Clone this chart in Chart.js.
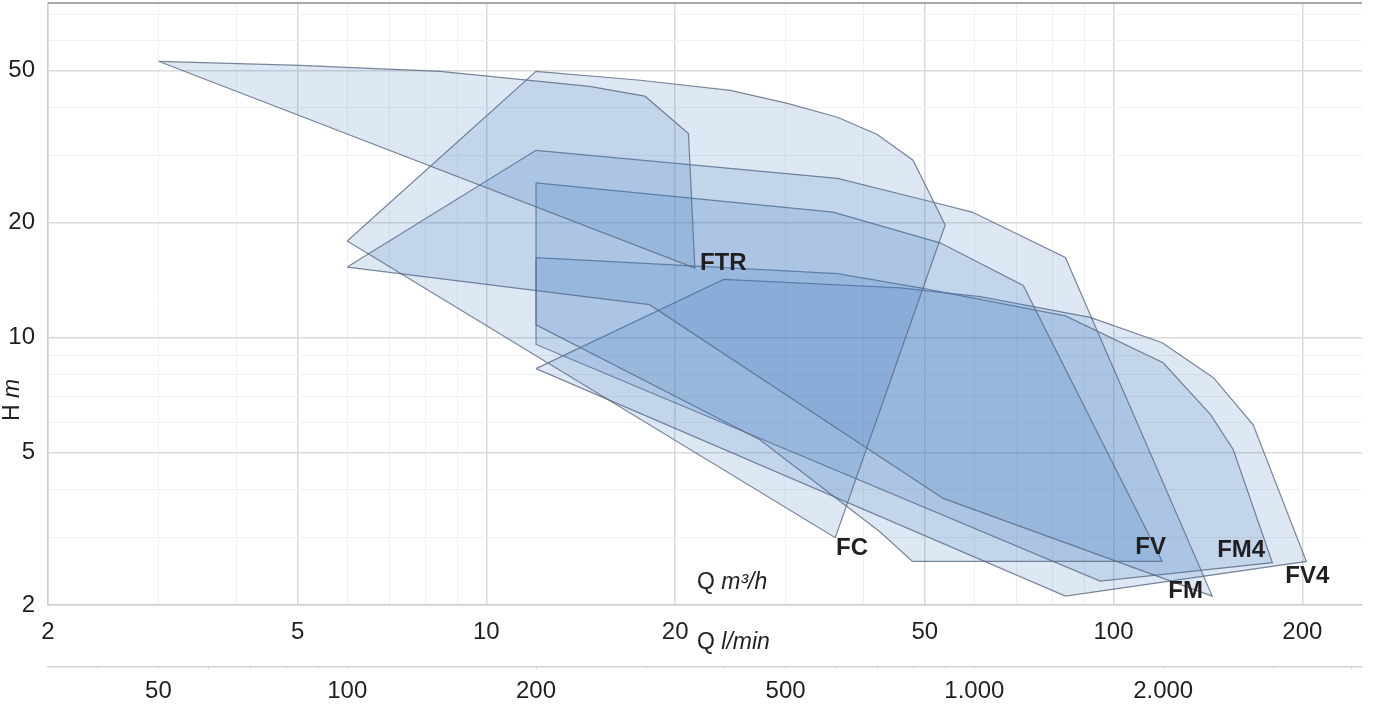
<!DOCTYPE html>
<html>
<head>
<meta charset="utf-8">
<script src="https://cdn.jsdelivr.net/npm/chart.js@4.4.1/dist/chart.umd.min.js"></script>
<style>
  html, body { margin: 0; padding: 0; background: #fff; }
  #wrap { width: 1377px; height: 706px; }
</style>
</head>
<body>
<div id="wrap"><canvas id="chart"></canvas></div>
<script>
// Pump ranges, Q in m3/h and H in m, vertices
const ftrQ = [3.0, 5.05, 8.44, 14.6, 17.9, 21.0, 21.5];
const ftrH = [52.8, 51.5, 49.7, 45.4, 42.8, 34.2, 15.2];

const fcQ = [6.0, 12, 17.6, 24.5, 30.2, 36.3, 42.0, 47.9, 53.9, 36.0];
const fcH = [17.9, 49.7, 47.1, 44.3, 41.0, 37.7, 34.0, 29.1, 19.7, 3.0];

const fmQ = [6.0, 12, 36.3, 51.6, 59.5, 83.8, 143.7, 53.5, 18.2];
const fmH = [15.3, 30.9, 26.1, 22.6, 21.3, 16.2, 2.11, 3.8, 12.2];

const fvQ = [12, 35.7, 52.9, 71.8, 119.6, 47.8, 42.5, 27.3, 12];
const fvH = [25.4, 21.3, 17.7, 13.7, 2.6, 2.6, 3.1, 5.41, 10.8];

const fm4Q = [12, 36.3, 49.2, 83.8, 120, 142.7, 155.2, 179.2, 95.2, 12];
const fm4H = [16.2, 14.7, 13.5, 11.4, 8.6, 6.3, 5.1, 2.58, 2.31, 9.6];

const fv4Q = [12, 23.9, 45.7, 61.3, 91.8, 119.6, 144.3, 167, 203, 83.8];
const fv4H = [8.3, 14.2, 13.5, 12.8, 11.3, 9.7, 7.86, 5.92, 2.6, 2.11];

// series names and where they sit (Q, H)
const seriesNames = ['FTR', 'FC', 'FV', 'FM4', 'FM', 'FV4'];
const nameQ = [21.9, 36.1, 108.3, 146.3, 122.3, 187.9];
const nameH = [15.6, 2.81, 2.83, 2.78, 2.17, 2.38];

// axes
const qTicks = [2, 3, 4, 5, 6, 7, 8, 9, 10, 20, 30, 40, 50, 60, 70, 80, 90, 100, 200];
const qLabels = [2, 5, 10, 20, 50, 100, 200];
const hTicks = [2, 3, 4, 5, 6, 7, 8, 9, 10, 20, 30, 40, 50, 60, 70];
const hLabels = [2, 5, 10, 20, 50];
const lminTicks = [40, 50, 60, 70, 80, 90, 100, 200, 300, 400, 500, 600, 700, 800, 900, 1000, 2000, 3000, 4000];
const lminLabels = [50, 100, 200, 500, 1000, 2000];

const Q_MIN = 2, Q_MAX = 249, H_MIN = 2, H_MAX = 75;
const LMIN_PER_M3H = 1000 / 60;

const FONT = '"Liberation Sans", Arial, Helvetica, sans-serif';
const TEXT = '#231f20';

function shape(q, h) {
  const pts = q.map((v, i) => ({ x: v, y: h[i] }));
  pts.push(pts[0]);
  return pts;
}

function area(label, q, h) {
  return {
    label,
    data: shape(q, h),
    fill: 'shape',
    backgroundColor: 'rgba(60, 118, 190, 0.17)',
    borderColor: 'rgba(90, 105, 130, 0.8)',
    borderWidth: 1.2,
    pointRadius: 0,
    tension: 0
  };
}

function fixTicks(values) {
  return scale => { scale.ticks = values.map(v => ({ value: v })); };
}

// keep the plot area where the picture has it, no label overhang padding
function fixSize(w, h) {
  return scale => {
    if (w) scale.width = w;
    if (h) scale.height = h;
    scale.paddingTop = 0;
    scale.paddingBottom = 0;
    scale.paddingLeft = 0;
    scale.paddingRight = 0;
  };
}

function gridColor(labels) {
  return c => (c.tick && labels.includes(c.tick.value)) ? '#dadada' : '#f0f0f0';
}

function gridWidth(labels) {
  return c => (c.tick && labels.includes(c.tick.value)) ? 1.5 : 1;
}

function dotted(v) {
  return String(v).replace(/\B(?=(\d{3})+(?!\d))/g, '.');
}

function drawMixed(ctx, parts, x, y, size) {
  parts.forEach(([txt, italic]) => {
    ctx.font = (italic ? 'italic ' : '') + size + 'px ' + FONT;
    ctx.fillText(txt, x, y);
    x += ctx.measureText(txt).width;
  });
}

const overlay = {
  id: 'overlay',
  afterDatasetsDraw(chart) {
    const { ctx, chartArea, scales } = chart;
    ctx.save();

    // frame line on top
    ctx.strokeStyle = '#8c8c8c';
    ctx.lineWidth = 1.5;
    ctx.beginPath();
    ctx.moveTo(chartArea.left, chartArea.top);
    ctx.lineTo(chartArea.right, chartArea.top);
    ctx.stroke();

    // series names
    ctx.fillStyle = TEXT;
    ctx.textBaseline = 'middle';
    ctx.textAlign = 'left';
    ctx.font = 'bold 24px ' + FONT;
    seriesNames.forEach((name, i) => {
      ctx.fillText(name, scales.x.getPixelForValue(nameQ[i]), scales.y.getPixelForValue(nameH[i]));
    });

    // axis titles
    drawMixed(ctx, [['Q ', false], ['m³/h', true]], 697, 583, 23);
    drawMixed(ctx, [['Q ', false], ['l/min', true]], 697, 643, 23);

    ctx.translate(13, 421);
    ctx.rotate(-Math.PI / 2);
    drawMixed(ctx, [['H ', false], ['m', true]], 0, 0, 23);

    ctx.restore();
  }
};

new Chart(document.getElementById('chart'), {
  type: 'line',
  data: {
    datasets: [
      area('FTR', ftrQ, ftrH),
      area('FC', fcQ, fcH),
      area('FM', fmQ, fmH),
      area('FV', fvQ, fvH),
      area('FM4', fm4Q, fm4H),
      area('FV4', fv4Q, fv4H)
    ]
  },
  options: {
    responsive: true,
    maintainAspectRatio: false,
    animation: false,
    layout: { autoPadding: false, padding: { top: 3, right: 15, left: 0, bottom: 0 } },
    plugins: {
      legend: { display: false },
      tooltip: { enabled: false }
    },
    scales: {
      x: {
        type: 'logarithmic',
        position: 'bottom',
        weight: 0,
        min: Q_MIN,
        max: Q_MAX,
        afterBuildTicks: fixTicks(qTicks),
        afterFit: fixSize(0, 62),
        grid: { color: gridColor(qLabels), lineWidth: gridWidth(qLabels), drawTicks: false },
        border: { color: '#cfcfcf', width: 1.5 },
        ticks: {
          autoSkip: false,
          maxRotation: 0,
          padding: 13,
          color: TEXT,
          font: { family: FONT, size: 24 },
          callback: v => qLabels.includes(v) ? String(v) : ''
        }
      },
      x2: {
        type: 'logarithmic',
        position: 'bottom',
        weight: 1,
        min: Q_MIN * LMIN_PER_M3H,
        max: Q_MAX * LMIN_PER_M3H,
        afterBuildTicks: fixTicks(lminTicks),
        afterFit: fixSize(0, 39),
        grid: { drawOnChartArea: false, drawTicks: true, tickLength: 3, color: '#e2e2e2' },
        border: { color: '#d2d2d2', width: 1.5 },
        ticks: {
          autoSkip: false,
          maxRotation: 0,
          padding: 7,
          color: TEXT,
          font: { family: FONT, size: 24 },
          callback: v => lminLabels.includes(v) ? dotted(v) : ''
        }
      },
      y: {
        type: 'logarithmic',
        min: H_MIN,
        max: H_MAX,
        afterBuildTicks: fixTicks(hTicks),
        afterFit: fixSize(48, 0),
        grid: { color: gridColor(hLabels), lineWidth: gridWidth(hLabels), drawTicks: false },
        border: { color: '#cfcfcf', width: 1.5 },
        ticks: {
          autoSkip: false,
          padding: 13,
          color: TEXT,
          font: { family: FONT, size: 24 },
          callback: v => hLabels.includes(v) ? String(v) : ''
        }
      }
    }
  },
  plugins: [overlay]
});
</script>
</body>
</html>
